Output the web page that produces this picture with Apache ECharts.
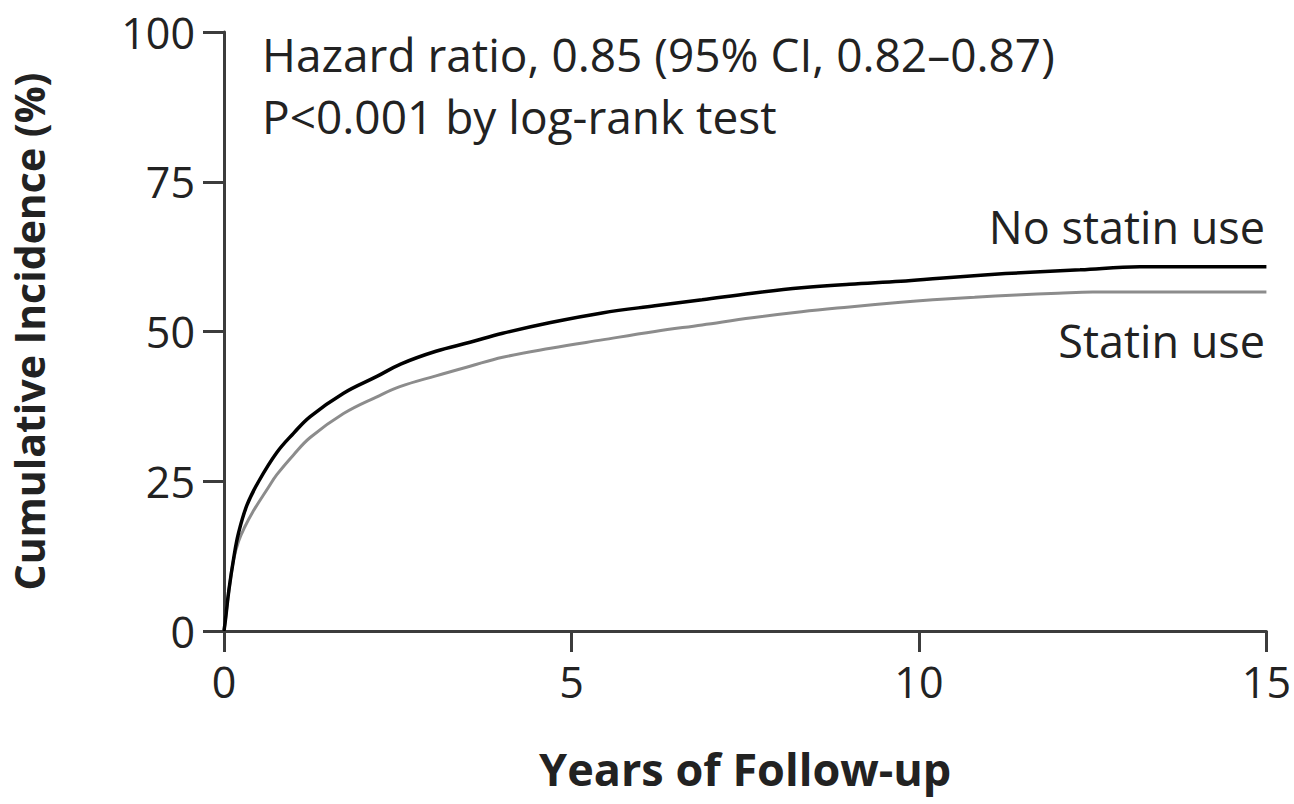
<!DOCTYPE html>
<html>
<head>
<meta charset="utf-8">
<script src="https://cdn.jsdelivr.net/npm/echarts@6/dist/echarts.min.js"></script>
<style>
html,body{margin:0;padding:0;background:#fff;}
#chart{width:1294px;height:804px;}
</style>
</head>
<body>
<div id="chart"></div>
<script>
// Data
const noStatinYears = [0, 0.02, 0.07, 0.14, 0.21, 0.33, 0.5, 0.76, 1.0, 1.24, 1.72, 2.2, 2.55, 3.05, 3.54, 4.01, 4.7, 5.44, 6.2, 6.88, 7.6, 8.31, 9.0, 9.74, 10.3, 10.89, 11.6, 12.32, 13.18, 15];
const noStatinValues = [0, 1.8, 6.8, 12.2, 16.4, 21.0, 25.0, 29.8, 33.0, 35.8, 39.7, 42.5, 44.6, 46.7, 48.2, 49.7, 51.5, 53.1, 54.3, 55.3, 56.4, 57.3, 57.9, 58.4, 58.9, 59.4, 59.9, 60.3, 60.8, 60.8];
const statinYears = [0, 0.02, 0.07, 0.14, 0.21, 0.3, 0.41, 0.64, 0.76, 1.0, 1.24, 1.72, 2.2, 2.53, 3.05, 3.54, 4.01, 4.7, 5.44, 6.2, 6.88, 7.6, 8.31, 9.0, 9.74, 10.2, 10.8, 11.4, 12.0, 12.5, 15];
const statinValues = [0, 1.8, 6.7, 12.0, 15.0, 17.4, 19.8, 24.0, 26.1, 29.4, 32.3, 36.3, 39.1, 40.8, 42.6, 44.2, 45.7, 47.2, 48.6, 50.0, 51.1, 52.3, 53.3, 54.1, 54.9, 55.3, 55.7, 56.1, 56.4, 56.6, 56.6];
const xTicks = [0, 5, 10, 15];
const yTicks = [0, 25, 50, 75, 100];
const seriesNames = ['No statin use', 'Statin use'];
const annotationLines = ['Hazard ratio, 0.85 (95% CI, 0.82\u20130.87)', 'P<0.001 by log-rank test'];
const xTitle = 'Years of Follow-up';
const yTitle = 'Cumulative Incidence (%)';

const FONT = '"Open Sans", "Noto Sans", sans-serif';
const AX = '#3c3c3c';
const TXT = '#222';

const zip = (xs, ys) => xs.map((x, i) => [x, ys[i]]);

const chart = echarts.init(document.getElementById('chart'), null, {renderer: 'svg'});
chart.setOption({
  animation: false,
  backgroundColor: '#fff',
  grid: {left: 220, right: 26, top: 32, bottom: 173, containLabel: false},
  xAxis: {
    type: 'value', min: 0, max: 15, interval: 5,
    axisLine: {show: true, lineStyle: {color: AX, width: 3}},
    axisTick: {show: true, length: 21, lineStyle: {color: AX, width: 3}},
    splitLine: {show: false},
    axisLabel: {margin: 29, color: TXT, fontFamily: FONT, fontSize: 43,
      formatter: v => xTicks.includes(v) ? String(v) : ''},
    name: xTitle, nameLocation: 'middle', nameGap: 113,
    nameTextStyle: {color: TXT, fontFamily: FONT, fontSize: 45, fontWeight: 'bold', lineHeight: 48}
  },
  yAxis: {
    type: 'value', min: 0, max: 100, interval: 25,
    axisLine: {show: true, lineStyle: {color: AX, width: 3}},
    axisTick: {show: true, length: 21, lineStyle: {color: AX, width: 3}},
    splitLine: {show: false},
    axisLabel: {margin: 29, color: TXT, fontFamily: FONT, fontSize: 43,
      formatter: v => yTicks.includes(v) ? String(v) : ''},
    name: yTitle, nameLocation: 'middle', nameGap: 175, nameRotate: 90,
    nameTextStyle: {color: TXT, fontFamily: FONT, fontSize: 41, fontWeight: 'bold'}
  },
  series: [
    {
      name: seriesNames[0], type: 'line', data: zip(noStatinYears, noStatinValues),
      showSymbol: false, smooth: 0.4, z: 3,
      lineStyle: {color: '#000', width: 3.5}
    },
    {
      name: seriesNames[1], type: 'line', data: zip(statinYears, statinValues),
      showSymbol: false, smooth: 0.4, z: 2,
      lineStyle: {color: '#8c8c8c', width: 3}
    }
  ],
  graphic: [
    {type: 'text', left: 262, top: 31, style: {text: annotationLines[0], fill: TXT, font: '46px ' + FONT}},
    {type: 'text', left: 262, top: 93, style: {text: annotationLines[1], fill: TXT, font: '46px ' + FONT}},
    {type: 'text', right: 29, top: 204, style: {text: seriesNames[0], fill: TXT, font: '45px ' + FONT}},
    {type: 'text', right: 29, top: 318, style: {text: seriesNames[1], fill: TXT, font: '45px ' + FONT}}
  ]
});
</script>
</body>
</html>
